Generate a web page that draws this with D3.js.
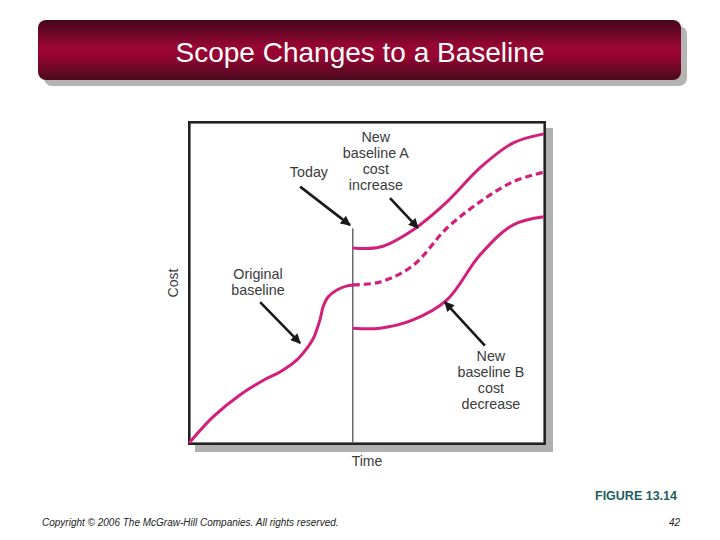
<!DOCTYPE html>
<html>
<head>
<meta charset="utf-8">
<script src="https://cdn.jsdelivr.net/npm/d3@7"></script>
<style>
  body { margin: 0; background: #fff; }
  svg { display: block; }
</style>
</head>
<body>
<svg id="chart" width="720" height="540"></svg>
<script>
// ---- Data (conceptual units: Time 0..100, Cost 0..100) ----
const titleText = "Scope Changes to a Baseline";
const xLabel = "Time";
const yLabel = "Cost";
const todayX = 46;

const originalTime = [0, 6.5, 14.1, 20.9, 25.4, 30.2, 33.1, 34.9, 36.7, 37.6, 39.0, 41.5, 44.4, 46];
const originalCost = [0, 7.9, 14.8, 19.5, 22.0, 25.8, 29.6, 32.7, 38.4, 42.5, 45.6, 47.8, 49.1, 49.4];

const dashedTime = [46, 53.7, 63, 72.6, 81.9, 91.2, 100];
const dashedCost = [49.4, 50.3, 55.5, 67.3, 75.5, 81.8, 84.9];

const baselineATime = [46, 53.7, 63, 72.6, 81.9, 91.2, 100];
const baselineACost = [61, 61.3, 66.7, 75.5, 86.2, 94, 96.9];

const baselineBTime = [46, 53.7, 63, 72.6, 81.9, 91.2, 100];
const baselineBCost = [35.8, 35.8, 38.4, 44.7, 58.8, 68.2, 70.8];

const annotations = [
  { lines: ["Today"], x: 33.6, y: 83.3, ax0: 31.1, ay0: 80.3, ax1: 45.2, ay1: 68.2 },
  { lines: ["New", "baseline A", "cost", "increase"], x: 52.5, y: 94.2, ax0: 56.5, ay0: 76.7, ax1: 64.4, ay1: 67.3 },
  { lines: ["Original", "baseline"], x: 19.2, y: 51.3, ax0: 19.8, ay0: 44.0, ax1: 31.1, ay1: 31.1 },
  { lines: ["New", "baseline B", "cost", "decrease"], x: 85.0, y: 25.4, ax0: 83.3, ay0: 30.3, ax1: 72.0, ay1: 44.0 }
];

const figureLabel = "FIGURE 13.14";
const copyrightText = "Copyright © 2006 The McGraw-Hill Companies. All rights reserved.";
const pageNumber = "42";

// ---- Drawing ----
const svg = d3.select("#chart");
const defs = svg.append("defs");

const grad = defs.append("linearGradient").attr("id", "banner").attr("x1", 0).attr("y1", 0).attr("x2", 0).attr("y2", 1);
grad.append("stop").attr("offset", "0%").attr("stop-color", "#45061c");
grad.append("stop").attr("offset", "45%").attr("stop-color", "#9a0633");
grad.append("stop").attr("offset", "60%").attr("stop-color", "#960432");
grad.append("stop").attr("offset", "100%").attr("stop-color", "#4a0a1e");

defs.append("marker").attr("id", "arrow").attr("viewBox", "0 0 10 10")
  .attr("refX", 9).attr("refY", 5).attr("markerWidth", 13).attr("markerHeight", 10)
  .attr("markerUnits", "userSpaceOnUse").attr("orient", "auto")
  .append("path").attr("d", "M0,0 L10,5 L0,10 Z").attr("fill", "#1a1a1a");

// Title banner
svg.append("rect").attr("x", 44).attr("y", 26).attr("width", 643).attr("height", 60).attr("rx", 8).attr("fill", "#b4b4b4");
svg.append("rect").attr("x", 38).attr("y", 20).attr("width", 643).attr("height", 60).attr("rx", 8).attr("fill", "url(#banner)");
svg.append("text").attr("x", 360).attr("y", 62).attr("text-anchor", "middle")
  .attr("font-family", "Liberation Sans, Arial, sans-serif").attr("font-size", 28).attr("fill", "#fff")
  .text(titleText);

// Plot area
const plot = { left: 190, right: 544, top: 124, bottom: 442 };
const x = d3.scaleLinear().domain([0, 100]).range([plot.left, plot.right]);
const y = d3.scaleLinear().domain([0, 100]).range([plot.bottom, plot.top]);

// shadow
svg.append("rect").attr("x", 195).attr("y", 128).attr("width", 358).attr("height", 324).attr("fill", "#b0b0b0");
// frame
svg.append("rect").attr("x", 189.3).attr("y", 122.3).attr("width", 355.4).attr("height", 321.4)
  .attr("fill", "#fff").attr("stroke", "#222").attr("stroke-width", 2.6);

// Today line
svg.append("line").attr("x1", x(todayX)).attr("x2", x(todayX)).attr("y1", y(67.2)).attr("y2", y(0))
  .attr("stroke", "#222").attr("stroke-width", 1);

const line = d3.line().x(d => x(d[0])).y(d => y(d[1])).curve(d3.curveCatmullRom.alpha(0.5));
const zip = (a, b) => a.map((v, i) => [v, b[i]]);
const lineColor = "#d21f7c";

svg.append("path").datum(zip(originalTime, originalCost)).attr("d", line)
  .attr("fill", "none").attr("stroke", lineColor).attr("stroke-width", 3).attr("stroke-linecap", "round");
svg.append("path").datum(zip(dashedTime, dashedCost)).attr("d", line)
  .attr("fill", "none").attr("stroke", lineColor).attr("stroke-width", 3.2).attr("stroke-dasharray", "7,4");
svg.append("path").datum(zip(baselineATime, baselineACost)).attr("d", line)
  .attr("fill", "none").attr("stroke", lineColor).attr("stroke-width", 3);
svg.append("path").datum(zip(baselineBTime, baselineBCost)).attr("d", line)
  .attr("fill", "none").attr("stroke", lineColor).attr("stroke-width", 3);

// Annotations
const font = "Liberation Sans, Arial, sans-serif";
annotations.forEach(a => {
  const t = svg.append("text").attr("text-anchor", "middle").attr("font-family", font)
    .attr("font-size", 14.3).attr("fill", "#3a3a3a");
  a.lines.forEach((l, i) => {
    t.append("tspan").attr("x", x(a.x)).attr("y", y(a.y) + i * 16).text(l);
  });
  svg.append("line").attr("x1", x(a.ax0)).attr("y1", y(a.ay0)).attr("x2", x(a.ax1)).attr("y2", y(a.ay1))
    .attr("stroke", "#1a1a1a").attr("stroke-width", 2.6).attr("marker-end", "url(#arrow)");
});

// Axis labels
svg.append("text").attr("x", 367).attr("y", 466).attr("text-anchor", "middle")
  .attr("font-family", font).attr("font-size", 14).attr("fill", "#3a3a3a").text(xLabel);
svg.append("text").attr("transform", "translate(178,283) rotate(-90)").attr("text-anchor", "middle")
  .attr("font-family", font).attr("font-size", 14).attr("fill", "#3a3a3a").text(yLabel);

// Footer
svg.append("text").attr("x", 677).attr("y", 500).attr("text-anchor", "end")
  .attr("font-family", "Liberation Sans Narrow, Arial Narrow, sans-serif").attr("font-weight", "bold")
  .attr("font-size", 12.5).attr("fill", "#1d5e60").text(figureLabel);
svg.append("text").attr("x", 42).attr("y", 526).attr("font-family", font).attr("font-style", "italic")
  .attr("font-size", 10).attr("fill", "#222").text(copyrightText);
svg.append("text").attr("x", 680).attr("y", 526).attr("text-anchor", "end").attr("font-family", font)
  .attr("font-style", "italic").attr("font-size", 10).attr("fill", "#222").text(pageNumber);
</script>
</body>
</html>
